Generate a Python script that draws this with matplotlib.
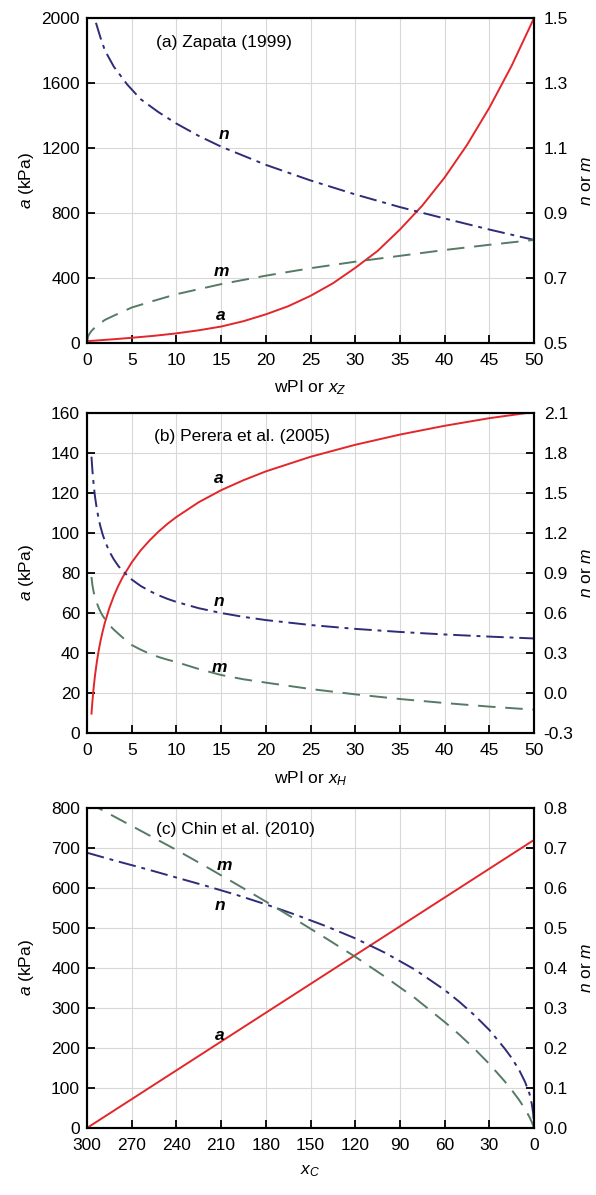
import numpy as np
import matplotlib
matplotlib.use("Agg")
import matplotlib.pyplot as plt

plt.rcParams['font.family'] = ['Liberation Sans', 'DejaVu Sans']
plt.rcParams['mathtext.fontset'] = 'custom'
plt.rcParams['mathtext.rm'] = 'Liberation Sans'
plt.rcParams['mathtext.it'] = 'Liberation Sans:italic'
plt.rcParams['mathtext.bf'] = 'Liberation Sans:bold'

# (a) Zapata (1999)
za_x = [0, 0.5, 1, 2, 3, 5, 7.5, 10, 12.5, 15, 17.5, 20, 22.5, 25, 27.5, 30, 32.5, 35,
        37.5, 40, 42.5, 45, 47.5, 50]
za_a = [11, 13, 15, 19, 23, 32, 44, 59, 78, 101, 134, 176, 226, 290, 367, 462, 566, 698,
        845, 1018, 1218, 1447, 1706, 1999]
zm_x = [0, 0.1, 0.2, 0.5, 1, 2, 3, 5, 7.5, 10, 15, 20, 25, 30, 35, 40, 45, 50]
zm_m = [0.5, 0.518, 0.525, 0.537, 0.551, 0.571, 0.584, 0.609, 0.630, 0.650, 0.681, 0.707,
        0.730, 0.750, 0.768, 0.786, 0.802, 0.817]
zn_x = [1, 1.5, 2, 3, 4.5, 6, 8, 10, 12.5, 15, 20, 25, 30, 35, 40, 45, 50]
zn_n = [1.485, 1.44, 1.40, 1.35, 1.295, 1.25, 1.21, 1.175, 1.137, 1.104, 1.048, 1.000,
        0.957, 0.918, 0.883, 0.849, 0.817]

# (b) Perera et al. (2005)
pe_x = [0.5, 0.6, 0.75, 0.9, 1.1, 1.3, 1.5, 1.75, 2, 2.5, 3, 3.5, 4, 5, 6, 7, 8, 9, 10,
        12.5, 15, 17.5, 20, 25, 30, 35, 40, 45, 50]
pe_a = [9.7, 15.7, 23.0, 29.0, 35.6, 41.1, 45.8, 50.8, 55.2, 62.5, 68.5, 73.6, 78.0, 85.3,
        91.3, 96.3, 100.7, 104.6, 108.0, 115.4, 121.4, 126.4, 130.8, 138.1, 144.1, 149.2,
        153.6, 157.4, 160.5]
pe_n = [1.772, 1.672, 1.557, 1.469, 1.379, 1.307, 1.249, 1.189, 1.140, 1.061, 1.002, 0.953,
        0.914, 0.851, 0.803, 0.765, 0.733, 0.706, 0.683, 0.636, 0.600, 0.571, 0.547, 0.510,
        0.481, 0.458, 0.439, 0.423, 0.409]
pe_m = [0.87, 0.81, 0.755, 0.715, 0.675, 0.64, 0.61, 0.58, 0.555, 0.51, 0.475, 0.445, 0.415,
        0.36, 0.325, 0.295, 0.27, 0.25, 0.232, 0.18, 0.135, 0.103, 0.078, 0.03, -0.01,
        -0.045, -0.075, -0.102, -0.125]

# (c) Chin et al. (2010)
ch_x = [300, 280, 260, 240, 220, 200, 180, 160, 140, 120, 100, 80, 60, 50, 40, 30, 20, 15,
        10, 6, 3, 1.5, 0.5, 0]
ch_a = [0, 48, 96, 144, 192, 240, 288, 336, 384, 432, 480, 528, 576, 600, 624, 648, 672,
        684, 696, 705.6, 712.8, 716.4, 718.8, 720]
ch_n = [0.688, 0.667, 0.647, 0.626, 0.605, 0.583, 0.559, 0.533, 0.505, 0.474, 0.438, 0.396,
        0.345, 0.315, 0.282, 0.245, 0.20, 0.175, 0.145, 0.115, 0.085, 0.06, 0.035, 0.0]
ch_m = [0.815, 0.775, 0.735, 0.695, 0.653, 0.610, 0.566, 0.521, 0.475, 0.428, 0.378, 0.325,
        0.265, 0.233, 0.198, 0.160, 0.118, 0.095, 0.07, 0.047, 0.027, 0.015, 0.005, 0.0]

RED = '#e3262a'
NAVY = '#2e2b78'
GREEN = '#557a66'
FS = 12.5

fig = plt.figure(figsize=(5.96, 11.95), dpi=100)

boxes = [[0.146, 0.713, 0.750, 0.272],
         [0.146, 0.3866, 0.750, 0.2678],
         [0.146, 0.0561, 0.750, 0.2678]]


def style(ax, ax2):
    for a in (ax, ax2):
        for s in a.spines.values():
            s.set_linewidth(1.5)
    ax.tick_params(direction='in', length=6, width=1.3, labelsize=FS, top=False, right=False)
    ax.tick_params(axis='x', pad=7)
    ax.tick_params(axis='y', pad=5)
    ax2.tick_params(direction='in', length=6, width=1.3, labelsize=FS, pad=7)
    ax.grid(True, color='#d8d8d8', linewidth=0.8)
    ax.set_axisbelow(True)
    ax.set_ylabel('$a$ (kPa)', fontsize=FS)
    ax.yaxis.set_label_coords(-0.115, 0.5)
    ax2.set_ylabel('$n$ or $m$', fontsize=FS)
    ax2.yaxis.set_label_coords(1.1, 0.5)


def lines(ax, ax2, xa, ya, xn, yn, xm, ym):
    ax.plot(xa, ya, color=RED, lw=1.4, zorder=3)
    ax2.plot(xn, yn, color=NAVY, lw=1.4, dashes=(9, 3, 2, 3))
    ax2.plot(xm, ym, color=GREEN, lw=1.4, dashes=(9, 5))


def lab(ax, x, y, s):
    ax.text(x, y, s, fontsize=FS, fontweight='bold', fontstyle='italic', ha='center', va='center')


# panel (a)
ax = fig.add_axes(boxes[0])
ax2 = ax.twinx()
lines(ax, ax2, za_x, za_a, zn_x, zn_n, zm_x, zm_m)
ax.set_xlim(0, 50)
ax.set_ylim(0, 2000)
ax.set_xticks(np.arange(0, 51, 5))
ax.set_yticks(np.arange(0, 2001, 400))
ax2.set_ylim(0.5, 1.5)
ax2.set_yticks([0.5, 0.7, 0.9, 1.1, 1.3, 1.5])
ax2.set_yticklabels(['0.5', '0.7', '0.9', '1.1', '1.3', '1.5'])
ax.set_xlabel('wPI or $x_Z$', fontsize=FS, labelpad=8)
style(ax, ax2)
ax.text(7.7, 1846, '(a) Zapata (1999)', fontsize=FS, va='center')
lab(ax, 15.3, 1280, 'n')
lab(ax, 15, 437, 'm')
lab(ax, 15, 167, 'a')

# panel (b)
ax = fig.add_axes(boxes[1])
ax2 = ax.twinx()
lines(ax, ax2, pe_x, pe_a, pe_x, pe_n, pe_x, pe_m)
ax.set_xlim(0, 50)
ax.set_ylim(0, 160)
ax.set_xticks(np.arange(0, 51, 5))
ax.set_yticks(np.arange(0, 161, 20))
ax2.set_ylim(-0.3, 2.1)
rt = [-0.3, 0.0, 0.3, 0.6, 0.9, 1.2, 1.5, 1.8, 2.1]
ax2.set_yticks(rt)
ax2.set_yticklabels(['%.1f' % v for v in rt])
ax.set_xlabel('wPI or $x_H$', fontsize=FS, labelpad=8)
style(ax, ax2)
ax.text(7.5, 148, '(b) Perera et al. (2005)', fontsize=FS, va='center')
lab(ax, 14.7, 127, 'a')
lab(ax, 14.8, 66, 'n')
lab(ax, 14.8, 33, 'm')

# panel (c)
ax = fig.add_axes(boxes[2])
ax2 = ax.twinx()
lines(ax, ax2, ch_x, ch_a, ch_x, ch_n, ch_x, ch_m)
ax.set_xlim(300, 0)
ax.set_ylim(0, 800)
ax.set_xticks(np.arange(300, -1, -30))
ax.set_yticks(np.arange(0, 801, 100))
ax2.set_ylim(0, 0.8)
rt = [0.0, 0.1, 0.2, 0.3, 0.4, 0.5, 0.6, 0.7, 0.8]
ax2.set_yticks(rt)
ax2.set_yticklabels(['%.1f' % v for v in rt])
ax.set_xlabel('$x_C$', fontsize=FS, labelpad=8)
style(ax, ax2)
ax.text(254, 745, '(c) Chin et al. (2010)', fontsize=FS, va='center')
lab(ax, 208, 657, 'm')
lab(ax, 210.5, 557, 'n')
lab(ax, 211, 232, 'a')

fig.savefig('out.png', dpi=100)
